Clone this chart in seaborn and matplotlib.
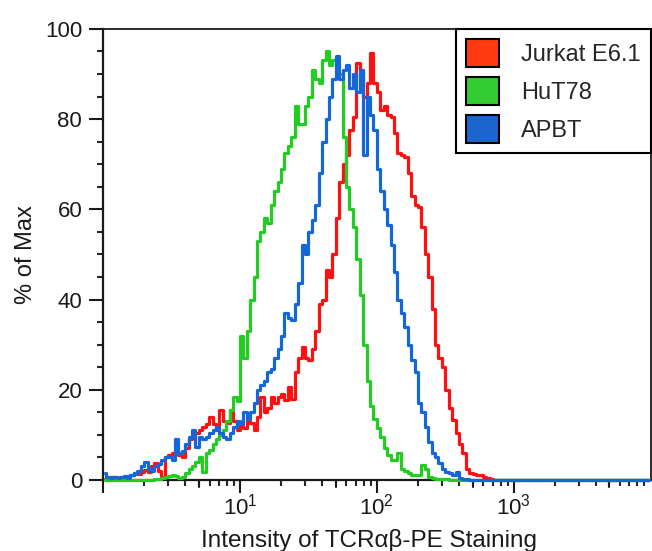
import numpy as np
import pandas as pd
import matplotlib
matplotlib.use("Agg")
import matplotlib.pyplot as plt
from matplotlib.patches import Patch
from matplotlib.ticker import FixedLocator
import seaborn as sns

# histogram heights (% of max) per channel, 40 channels per decade starting at 10^0
jurkat = [0.3, 0.5, 0.7, 0.7, 0.5, 0.7, 0.7, 0.8, 1.0, 1.5,
          1.3, 1.8, 2.2, 1.8, 3.0, 3.7, 2.0, 0.7, 5.0, 5.5,
          6.0, 6.6, 5.5, 5.0, 7.0, 9.0, 9.5, 10.4, 11.0, 11.8,
          12.5, 14.0, 12.5, 11.0, 15.5, 13.0, 12.6, 15.5, 13.0, 11.0,
          12.0, 11.5, 13.0, 12.6, 11.0, 14.0, 18.4, 15.0, 16.0, 18.4,
          17.0, 18.4, 19.0, 17.7, 20.6, 18.0, 24.0, 27.0, 29.5, 27.0,
          26.6, 29.0, 33.0, 39.0, 40.0, 46.5, 45.0, 50.0, 58.0, 66.0,
          70.0, 72.0, 77.6, 80.5, 92.5, 91.0, 85.0, 88.0, 94.6, 88.0,
          86.0, 82.0, 83.0, 81.0, 80.5, 77.0, 72.5, 72.0, 71.6, 68.0,
          63.0, 61.0, 60.5, 56.0, 50.0, 45.0, 38.0, 30.0, 27.0, 25.0,
          20.0, 16.0, 13.3, 10.5, 8.0, 6.0, 2.5, 1.5, 1.3, 1.1,
          1.0, 0.7, 0.4, 0.2]
hut78 = [0, 0, 0, 0, 0, 0, 0, 0, 0, 0,
         0, 0, 0, 0, 0, 0.2, 0.3, 0.5, 0.7, 0.8,
         1.0, 0.8, 0.5, 0.7, 1.5, 2.5, 3.0, 4.0, 5.0, 1.8,
         6.0, 6.6, 8.0, 9.0, 10.0, 11.0, 13.0, 15.5, 18.4, 17.5,
         32.0, 27.0, 33.0, 40.0, 45.0, 53.0, 55.0, 58.0, 57.0, 61.0,
         64.0, 66.0, 69.0, 72.5, 74.0, 76.0, 83.0, 79.0, 79.0, 83.0,
         85.0, 91.0, 89.0, 88.0, 93.0, 95.0, 92.0, 93.0, 91.0, 90.0,
         76.0, 65.0, 60.0, 56.0, 49.0, 41.0, 30.0, 22.0, 16.5, 13.5,
         11.5, 9.5, 7.0, 5.5, 4.4, 4.4, 6.0, 2.5, 2.0, 1.5,
         1.2, 1.0, 1.2, 3.3, 2.5, 0.7, 0.5, 0.3, 0.3, 0.2,
         0.1]
apbt = [1.5, 0.7, 0.5, 0.7, 0.5, 0.7, 0.8, 0.5, 1.2, 1.5,
        2.0, 3.0, 4.0, 2.5, 2.0, 3.0, 3.5, 4.4, 5.0, 5.0,
        4.4, 9.0, 6.0, 6.5, 8.0, 9.5, 11.0, 7.3, 9.5, 9.0,
        9.5, 10.4, 11.0, 11.8, 10.4, 9.5, 9.0, 10.5, 11.8, 13.0,
        12.5, 15.0, 13.5, 15.0, 17.0, 20.0, 21.0, 22.0, 24.0, 24.5,
        27.0, 29.0, 32.0, 37.0, 36.0, 35.5, 39.0, 43.7, 52.0, 50.0,
        55.0, 57.6, 61.0, 68.0, 75.0, 80.0, 85.0, 89.0, 94.0, 89.0,
        91.0, 92.0, 87.0, 90.0, 86.0, 91.0, 72.0, 85.0, 81.0, 77.6,
        69.0, 64.0, 60.0, 56.5, 52.0, 46.0, 40.0, 37.0, 34.0, 30.0,
        26.5, 24.0, 17.0, 15.0, 11.8, 8.5, 6.0, 5.0, 3.8, 2.5,
        1.8, 1.5, 1.0, 1.8, 0.5, 0.3, 0.2]

names = ["Jurkat E6.1", "HuT78", "APBT"]
line_colors = {"Jurkat E6.1": "#ff1010", "HuT78": "#22cc22", "APBT": "#1566d6"}
patch_colors = ["#ff3a10", "#33cc33", "#1a66cc"]

n_chan = 160
rows = []
for name, vals in zip(names, [jurkat, hut78, apbt]):
    vals = list(vals) + [0.0] * (n_chan - len(vals))
    chan = 10 ** ((np.arange(n_chan) + 0.5) / 40)
    rows.append(pd.DataFrame({"intensity": chan, "pct": vals, "line": name}))
df = pd.concat(rows, ignore_index=True)

sns.set_style("ticks")
plt.rcParams["font.family"] = ["Liberation Sans", "DejaVu Sans"]
plt.rcParams["mathtext.default"] = "regular"
txt = "#1a1a1a"

fig = plt.figure(figsize=(6.52, 5.51), dpi=100)
ax = fig.add_axes([0.158, 0.129, 0.840, 0.8185])

sns.lineplot(data=df, x="intensity", y="pct", hue="line", hue_order=names,
             palette=line_colors, estimator=None, drawstyle="steps-mid",
             linewidth=2.3, legend=False, ax=ax, clip_on=False, zorder=3)

ax.set_xscale("log")
ax.set_xlim(1, 1e4)
ax.set_ylim(0, 100)

ax.xaxis.set_major_locator(FixedLocator([1, 10, 100, 1000]))
ax.set_xticklabels(["", "$10^1$", "$10^2$", "$10^3$"])
minor = [m * 10 ** d for d in range(4) for m in range(2, 10)]
ax.xaxis.set_minor_locator(FixedLocator(minor))
ax.set_yticks([0, 20, 40, 60, 80, 100])
ax.yaxis.set_minor_locator(FixedLocator(list(range(5, 100, 5))))

ax.tick_params(axis="x", which="major", length=9, width=1.5, pad=1, labelsize=16, colors=txt)
ax.tick_params(axis="x", which="minor", length=4, width=1.5)
ax.tick_params(axis="y", which="major", length=10, width=1.5, pad=5, labelsize=16, colors=txt)
ax.tick_params(axis="y", which="minor", length=4, width=1.5)
# medium ticks at the 5s
for d in range(4):
    ax.plot([5 * 10 ** d] * 2, [0, -1.6], color=txt, lw=1.5, clip_on=False)

for s in ax.spines.values():
    s.set_color(txt)
for s in ["left", "bottom"]:
    ax.spines[s].set_linewidth(1.6)
for s in ["top", "right"]:
    ax.spines[s].set_linewidth(1.3)

ax.set_xlabel("Intensity of TCRαβ-PE Staining", fontsize=17.5, labelpad=7, color=txt)
ax.xaxis.label.set_x(0.485)
ax.set_ylabel("% of Max", fontsize=17, labelpad=6, color=txt)

handles = [Patch(facecolor=c, edgecolor="black", linewidth=1.5) for c in patch_colors]
leg = ax.legend(handles, names, loc="upper right", fontsize=17, frameon=True,
                fancybox=False, edgecolor="black", framealpha=1,
                handlelength=1.4, handleheight=1.45, labelspacing=0.42,
                handletextpad=0.95, borderaxespad=0.0, borderpad=0.42)
leg.get_frame().set_linewidth(1.5)

fig.savefig("out.png", dpi=100)
